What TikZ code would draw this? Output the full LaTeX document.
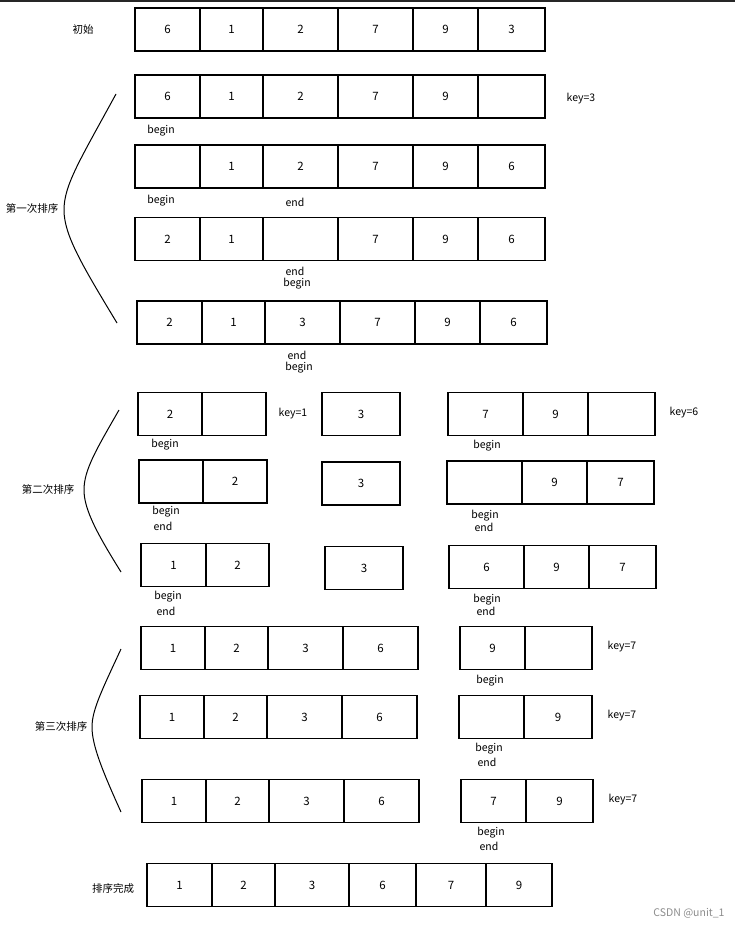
\documentclass[tikz,border=0pt]{standalone}
\usepackage{fontspec}
\setmainfont{Noto Sans CJK SC}

\begin{document}
\begin{tikzpicture}[
  x=1pt, y=-1pt,
  cell/.style = {draw, line width=1.3pt, rectangle, minimum height=43pt, inner sep=0pt, font=\fontsize{11.5}{13}\selectfont},
  lbl/.style = {inner sep=0pt, font=\fontsize{10.5}{12}\selectfont},
  brace/.style = {line width=1pt}
]
\useasboundingbox (0,0) rectangle (735,928);
\fill[black!85] (0,0) rectangle (735,2);

% initial array
\node[lbl] (init-name) at (83,30) {初始};
\foreach \l/\r/\v [count=\i] in {135/200/6,200/263/1,263/338/2,338/413/7,413/478/9,478/545/3}
  \node[cell, minimum width={(\r-\l)*1pt}] (init-\i) at ({(\l+\r)/2},29.5) {\v};

% first pass
\foreach \l/\r/\v [count=\i] in {135/200/6,200/263/1,263/338/2,338/413/7,413/478/9,478/545/{}}
  \node[cell, minimum width={(\r-\l)*1pt}] (pa-\i) at ({(\l+\r)/2},96.5) {\v};
\foreach \l/\r/\v [count=\i] in {135/200/{},200/263/1,263/338/2,338/413/7,413/478/9,478/545/6}
  \node[cell, minimum width={(\r-\l)*1pt}] (pb-\i) at ({(\l+\r)/2},166.5) {\v};
\foreach \l/\r/\v [count=\i] in {135/200/2,200/263/1,263/338/{},338/413/7,413/478/9,478/545/6}
  \node[cell, minimum width={(\r-\l)*1pt}] (pc-\i) at ({(\l+\r)/2},239) {\v};
\foreach \l/\r/\v [count=\i] in {137/202/2,202/265/1,265/340/3,340/415/7,415/480/9,480/547/6}
  \node[cell, minimum width={(\r-\l)*1pt}] (pd-\i) at ({(\l+\r)/2},322.5) {\v};

\node[lbl] (pa-key) at (581,99) {key=3};
\node[lbl] (pa-begin) at (161,131) {begin};
\node[lbl] (pb-begin) at (161,201) {begin};
\node[lbl] (pb-end) at (295,202) {end};
\node[lbl] (pc-end) at (295,271) {end};
\node[lbl] (pc-begin) at (297,284) {begin};
\node[lbl] (pd-end) at (297,355) {end};
\node[lbl] (pd-begin) at (299,368) {begin};

\node[lbl] (pass1) at (32,209) {第一次排序};
\draw[brace] (116,94) .. controls (80,160) and (64,185) .. (64,210)
  .. controls (64,235) and (82,265) .. (117,323);

% second pass
\foreach \l/\r/\v [count=\i] in {138/202/2,202/266/{}}
  \node[cell, minimum width={(\r-\l)*1pt}] (qa-l\i) at ({(\l+\r)/2},414) {\v};
\node[cell, minimum width=78pt] (qa-m) at (361,414) {3};
\foreach \l/\r/\v [count=\i] in {448/523/7,523/588/9,588/655/{}}
  \node[cell, minimum width={(\r-\l)*1pt}] (qa-r\i) at ({(\l+\r)/2},414) {\v};

\foreach \l/\r/\v [count=\i] in {139/203/{},203/267/2}
  \node[cell, minimum width={(\r-\l)*1pt}] (qb-l\i) at ({(\l+\r)/2},481.5) {\v};
\node[cell, minimum width=78pt] (qb-m) at (361,483.5) {3};
\foreach \l/\r/\v [count=\i] in {447/522/{},522/587/9,587/654/7}
  \node[cell, minimum width={(\r-\l)*1pt}] (qb-r\i) at ({(\l+\r)/2},482.5) {\v};

\foreach \l/\r/\v [count=\i] in {141/206/1,206/269/2}
  \node[cell, minimum width={(\r-\l)*1pt}] (qc-l\i) at ({(\l+\r)/2},565) {\v};
\node[cell, minimum width=78pt] (qc-m) at (364,568) {3};
\foreach \l/\r/\v [count=\i] in {449/524/6,524/589/9,589/656/7}
  \node[cell, minimum width={(\r-\l)*1pt}] (qc-r\i) at ({(\l+\r)/2},567) {\v};

\node[lbl] (qa-key1) at (293,414) {key=1};
\node[lbl] (qa-key6) at (684,413) {key=6};
\node[lbl] (qa-lbegin) at (165,445) {begin};
\node[lbl] (qa-rbegin) at (487,446) {begin};
\node[lbl] (qb-lbegin) at (166,512) {begin};
\node[lbl] (qb-lend) at (163,526) {end};
\node[lbl] (qb-rbegin) at (485,516) {begin};
\node[lbl] (qb-rend) at (484,527) {end};
\node[lbl] (qc-lbegin) at (168,597) {begin};
\node[lbl] (qc-lend) at (166,611) {end};
\node[lbl] (qc-rbegin) at (487,600) {begin};
\node[lbl] (qc-rend) at (486,611) {end};

\node[lbl] (pass2) at (48,489) {第二次排序};
\draw[brace] (119,410) .. controls (96,450) and (84,470) .. (84,490)
  .. controls (84,510) and (98,535) .. (121,572);

% third pass
\foreach \l/\r/\v [count=\i] in {141/205/1,205/268/2,268/343/3,343/418/6}
  \node[cell, minimum width={(\r-\l)*1pt}] (ra-l\i) at ({(\l+\r)/2},648) {\v};
\foreach \l/\r/\v [count=\i] in {460/525/9,525/592/{}}
  \node[cell, minimum width={(\r-\l)*1pt}] (ra-r\i) at ({(\l+\r)/2},648) {\v};
\foreach \l/\r/\v [count=\i] in {140/204/1,204/267/2,267/342/3,342/417/6}
  \node[cell, minimum width={(\r-\l)*1pt}] (rb-l\i) at ({(\l+\r)/2},717) {\v};
\foreach \l/\r/\v [count=\i] in {459/524/{},524/592/9}
  \node[cell, minimum width={(\r-\l)*1pt}] (rb-r\i) at ({(\l+\r)/2},717) {\v};
\foreach \l/\r/\v [count=\i] in {142/206/1,206/269/2,269/344/3,344/419/6}
  \node[cell, minimum width={(\r-\l)*1pt}] (rc-l\i) at ({(\l+\r)/2},801) {\v};
\foreach \l/\r/\v [count=\i] in {461/526/7,526/593/9}
  \node[cell, minimum width={(\r-\l)*1pt}] (rc-r\i) at ({(\l+\r)/2},801) {\v};

\node[lbl] (ra-key) at (622,647) {key=7};
\node[lbl] (ra-begin) at (490,681) {begin};
\node[lbl] (rb-key) at (622,716) {key=7};
\node[lbl] (rb-begin) at (489,749) {begin};
\node[lbl] (rb-end) at (487,762) {end};
\node[lbl] (rc-key) at (623,800) {key=7};
\node[lbl] (rc-begin) at (491,833) {begin};
\node[lbl] (rc-end) at (489,846) {end};

\node[lbl] (pass3) at (61,726) {第三次排序};
\draw[brace] (121,649) .. controls (102,690) and (92,710) .. (92,727)
  .. controls (92,745) and (102,770) .. (121,812);

% sorted
\node[lbl] (done-name) at (113,888) {排序完成};
\foreach \l/\r/\v [count=\i] in {147/212/1,212/275/2,275/349/3,349/416/6,416/486/7,486/552/9}
  \node[cell, minimum width={(\r-\l)*1pt}] (done-\i) at ({(\l+\r)/2},885) {\v};

\node[lbl, text=black!45] (mark) at (689,913) {CSDN @unit\_1};
\end{tikzpicture}
\end{document}
